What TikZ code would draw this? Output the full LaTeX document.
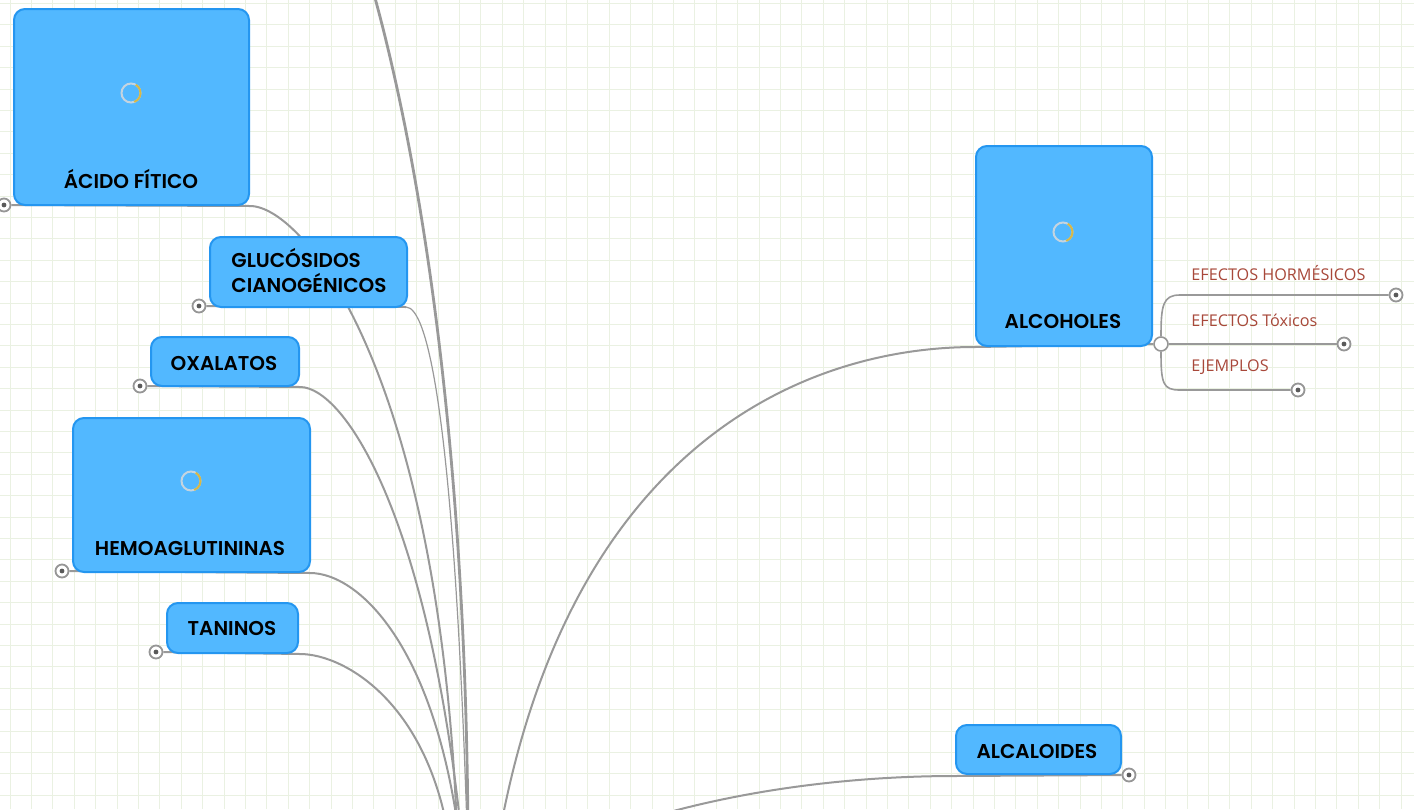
\documentclass[tikz,border=0pt]{standalone}
\usepackage{fontspec}
\IfFontExistsTF{Poppins SemiBold}
  {\setmainfont{Poppins}[BoldFont={Poppins SemiBold}]}
  {\setmainfont{Poppins}}
\newfontfamily\sublabelfont{Open Sans}

\definecolor{topicfill}{RGB}{82,184,255}
\definecolor{topicedge}{RGB}{36,150,240}
\definecolor{linkgray}{RGB}{153,153,153}
\definecolor{markgray}{RGB}{150,150,150}
\definecolor{markdot}{RGB}{90,90,90}
\definecolor{gridgreen}{RGB}{234,241,226}
\definecolor{subred}{RGB}{168,72,58}
\definecolor{spinring}{RGB}{196,212,224}
\definecolor{spinarc}{RGB}{214,184,72}

\tikzset{
  topic/.style={draw=topicedge, line width=1pt, fill=topicfill, rounded corners=5.5pt,
    anchor=north west, inner sep=0pt},
  topictext/.style={font=\bfseries\fontsize{10}{12.5}\selectfont, text=black, inner sep=0pt},
  subtext/.style={font=\sublabelfont\fontsize{8.1}{10}\selectfont, text=subred,
    anchor=base west, inner sep=0pt},
  link/.style={draw=linkgray, line width=1pt},
  thinlink/.style={draw=linkgray, line width=0.6pt},
  sublink/.style={draw=linkgray, line width=0.8pt},
  gridln/.style={draw=gridgreen, line width=0.5pt},
  foldmark/.style={circle, draw=markgray, line width=0.9pt, fill=white, minimum size=6.5pt,
    inner sep=0pt, path picture={\fill[markdot] (path picture bounding box.center) circle (1.2pt);}},
  junction/.style={circle, draw=markgray, line width=0.8pt, fill=white, minimum size=7pt, inner sep=0pt},
}

\begin{document}
\begin{tikzpicture}[x=0.5pt,y=-0.5pt]
    \useasboundingbox (0,0) rectangle (1414,809);
    \clip (0,0) rectangle (1414,809);
    \fill[white] (0,0) rectangle (1414,809);

    %%grid
    \foreach \gx in {0,...,65}
        \draw[gridln] ({10+21.4*\gx},0) -- ({10+21.4*\gx},809);
    \foreach \gy in {0,...,37}
        \draw[gridln] (0,{3.5+21.4*\gy}) -- (1414,{3.5+21.4*\gy});

    %%fold marks
    \node[foldmark] (acidoD) at (4,205) {};
    \node[foldmark] (glucoD) at (199,306) {};
    \node[foldmark] (oxalD) at (140,386) {};
    \node[foldmark] (hemoD) at (62,571) {};
    \node[foldmark] (taninD) at (156,652) {};
    \node[foldmark] (hormD) at (1396,295) {};
    \node[foldmark] (toxD) at (1344,344) {};
    \node[foldmark] (ejemD) at (1298,390) {};
    \node[foldmark] (alcalD) at (1129,775) {};
    \node[junction] (alcohJ) at (1161,344) {};

    %%line ends
    \coordinate (acidoE) at (250,206);
    \coordinate (glucoE) at (406,307);
    \coordinate (oxalE) at (300,387);
    \coordinate (hemoE) at (310,573);
    \coordinate (taninE) at (300,654);
    \coordinate (alcohE) at (975,347);
    \coordinate (alcalE) at (955,776);
    \coordinate (upperE) at (370,-20);

    %%roots under the page
    \coordinate (rootAcido) at (458,860);
    \coordinate (rootGluco) at (468,860);
    \coordinate (rootOxal) at (464,860);
    \coordinate (rootHemo) at (462,860);
    \coordinate (rootTanin) at (452,860);
    \coordinate (rootUpper) at (468,860);
    \coordinate (rootAlcoh) at (495,860);
    \coordinate (rootAlcal) at (520,870);

    %%left branches
    \draw[link, line width=1.4pt] (upperE) .. controls (430,190) and (468,500) .. (rootUpper);
    \draw[link] (acidoD) -- (acidoE) .. controls (305,206) and (445,380) .. (rootAcido);
    \draw[link] (glucoD) -- (glucoE);
    \draw[thinlink] (glucoE) .. controls (428,307) and (455,420) .. (rootGluco);
    \draw[link] (oxalD) -- (oxalE) .. controls (345,387) and (432,520) .. (rootOxal);
    \draw[link] (hemoD) -- (hemoE) .. controls (360,573) and (440,650) .. (rootHemo);
    \draw[link] (taninD) -- (taninE) .. controls (345,654) and (435,705) .. (rootTanin);

    %%right branches
    \draw[link] (rootAlcoh) .. controls (560,450) and (800,347) .. (alcohE) -- (alcohJ);
    \draw[link] (rootAlcal) .. controls (650,800) and (820,776) .. (alcalE) -- (alcalD);

    %%alcoholes subtopics
    \draw[sublink] (alcohJ) .. controls (1161,305) and (1163,295) .. (1180,295) -- (hormD);
    \draw[sublink] (alcohJ) -- (toxD);
    \draw[sublink] (alcohJ) .. controls (1161,384) and (1163,390) .. (1180,390) -- (ejemD);

    %%topics
    \node[topic, minimum width=117.5pt, minimum height=98pt] (acido) at (13,8) {};
        \draw[spinring, line width=1pt] (131,93) circle (4.75pt);
        \draw[spinarc, line width=1pt] (131,93) ++(-70:4.75pt) arc (-70:60:4.75pt);
        \node[topictext, anchor=base] (acidoT) at (131,188) {ÁCIDO FÍTICO};

    \node[topic, minimum width=98.5pt, minimum height=35pt] (gluco) at (209,236) {};
        \node[topictext, anchor=west, align=left] (glucoT) at (231,270.5) {GLUCÓSIDOS\\CIANOGÉNICOS};

    \node[topic, minimum width=74pt, minimum height=24.5pt] (oxal) at (150,336) {};
        \node[topictext, anchor=base] (oxalT) at (224,370) {OXALATOS};

    \node[topic, minimum width=118.5pt, minimum height=77pt] (hemo) at (72,417) {};
        \draw[spinring, line width=1pt] (191,481) circle (4.75pt);
        \draw[spinarc, line width=1pt] (191,481) ++(-70:4.75pt) arc (-70:60:4.75pt);
        \node[topictext, anchor=base] (hemoT) at (190,555) {HEMOAGLUTININAS};

    \node[topic, minimum width=65.5pt, minimum height=25pt] (tanin) at (166,602) {};
        \node[topictext, anchor=base] (taninT) at (232,635) {TANINOS};

    \node[topic, minimum width=88pt, minimum height=100pt] (alcoh) at (975,145) {};
        \draw[spinring, line width=1pt] (1063,232) circle (4.75pt);
        \draw[spinarc, line width=1pt] (1063,232) ++(-70:4.75pt) arc (-70:60:4.75pt);
        \node[topictext, anchor=base] (alcohT) at (1063,328) {ALCOHOLES};

    \node[topic, minimum width=82.5pt, minimum height=24.5pt] (alcal) at (955,724) {};
        \node[topictext, anchor=base] (alcalT) at (1037,758) {ALCALOIDES};

    %%subtopic labels
    \node[subtext] (horm) at (1191,280) {EFECTOS HORMÉSICOS};
    \node[subtext] (tox) at (1191,326) {EFECTOS Tóxicos};
    \node[subtext] (ejem) at (1191,371) {EJEMPLOS};
\end{tikzpicture}
\end{document}
